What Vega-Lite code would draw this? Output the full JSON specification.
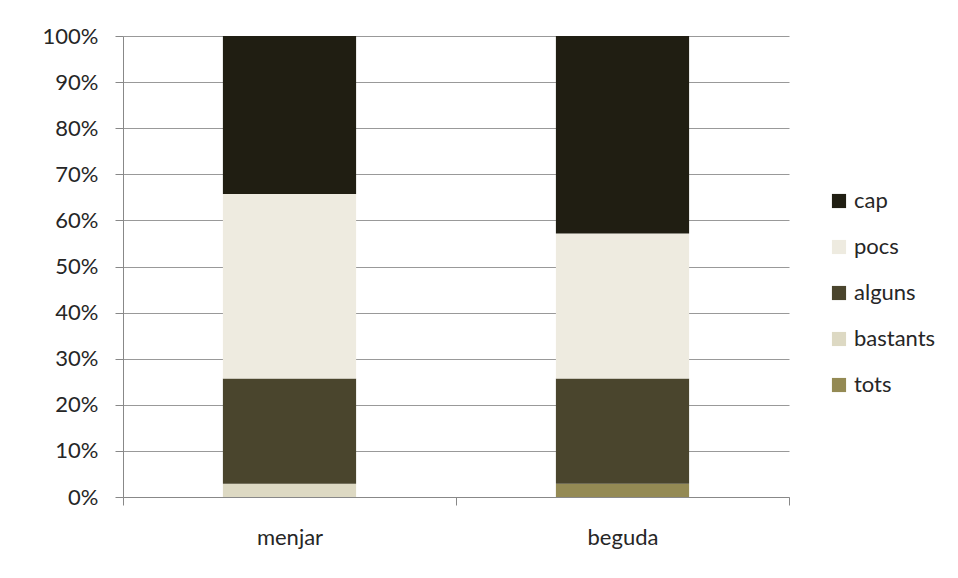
{
  "$schema": "https://vega.github.io/schema/vega-lite/v6.json",
  "width": 666,
  "height": 461,
  "autosize": "none",
  "padding": {"left": 123, "top": 36, "right": 169, "bottom": 81},
  "background": "white",
  "data": {
    "values": [
      {"categoria": "menjar", "resposta": "tots", "n": 0, "ordre": 1},
      {"categoria": "menjar", "resposta": "bastants", "n": 1, "ordre": 2},
      {"categoria": "menjar", "resposta": "alguns", "n": 8, "ordre": 3},
      {"categoria": "menjar", "resposta": "pocs", "n": 14, "ordre": 4},
      {"categoria": "menjar", "resposta": "cap", "n": 12, "ordre": 5},
      {"categoria": "beguda", "resposta": "tots", "n": 1, "ordre": 1},
      {"categoria": "beguda", "resposta": "bastants", "n": 0, "ordre": 2},
      {"categoria": "beguda", "resposta": "alguns", "n": 8, "ordre": 3},
      {"categoria": "beguda", "resposta": "pocs", "n": 11, "ordre": 4},
      {"categoria": "beguda", "resposta": "cap", "n": 15, "ordre": 5}
    ]
  },
  "mark": {"type": "bar", "width": {"band": 0.4}},
  "encoding": {
    "x": {
      "field": "categoria",
      "type": "nominal",
      "sort": ["menjar", "beguda"],
      "scale": {"paddingInner": 0, "paddingOuter": 0},
      "axis": {
        "title": null,
        "labelAngle": 0,
        "tickBand": "extent",
        "tickSize": 8,
        "tickColor": "#888888",
        "domainColor": "#888888",
        "labelPadding": 22,
        "labelFontSize": 22,
        "labelFont": "Lato",
        "labelColor": "#262626"
      }
    },
    "y": {
      "field": "n",
      "type": "quantitative",
      "stack": "normalize",
      "scale": {"domain": [0, 1]},
      "axis": {
        "title": null,
        "format": ".0%",
        "values": [0, 0.1, 0.2, 0.3, 0.4, 0.5, 0.6, 0.7, 0.8, 0.9, 1],
        "tickSize": 8,
        "tickColor": "#888888",
        "domainColor": "#888888",
        "gridColor": "#999999",
        "labelPadding": 17,
        "labelFontSize": 22,
        "labelFont": "Lato",
        "labelColor": "#262626"
      }
    },
    "color": {
      "field": "resposta",
      "type": "nominal",
      "scale": {
        "domain": ["cap", "pocs", "alguns", "bastants", "tots"],
        "range": ["#201E12", "#EEEBE0", "#4A452D", "#DDD9C3", "#948A54"]
      },
      "legend": {
        "title": null,
        "orient": "none",
        "legendX": 705,
        "legendY": 154,
        "symbolType": "square",
        "symbolSize": 200,
        "symbolStrokeWidth": 0,
        "labelFontSize": 22,
        "labelFont": "Lato",
        "labelColor": "#262626",
        "rowPadding": 24,
        "labelOffset": 4
      }
    },
    "order": {"field": "ordre", "type": "quantitative", "sort": "ascending"}
  },
  "config": {
    "view": {"stroke": null},
    "axisX": {"grid": false}
  }
}
